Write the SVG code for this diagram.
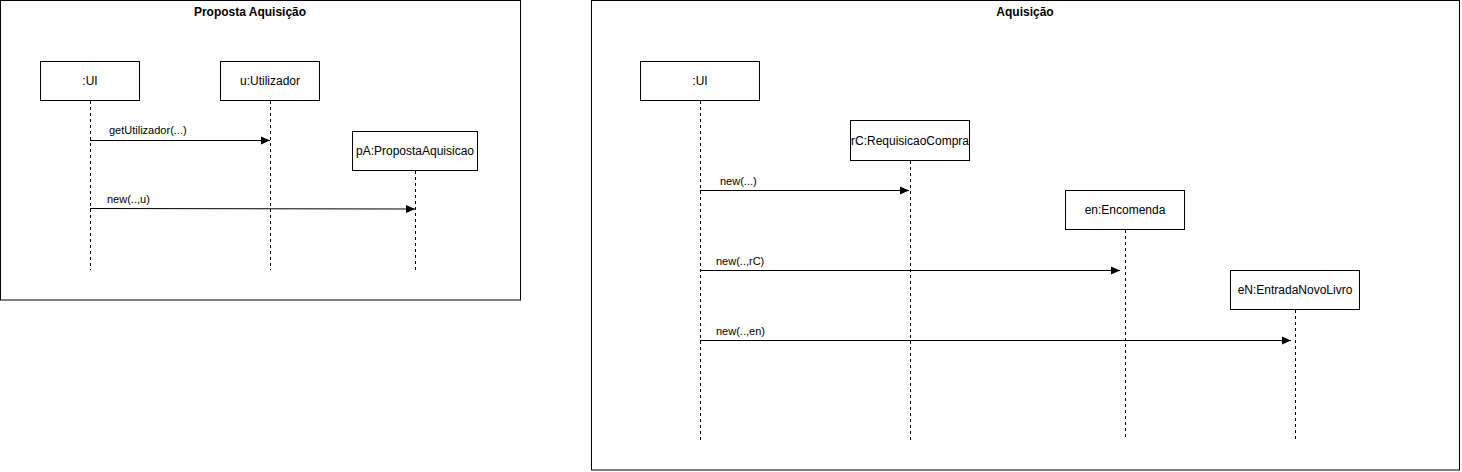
<svg xmlns="http://www.w3.org/2000/svg" width="1462" height="472" viewBox="0 0 1462 472">
<style>
.frame{fill:#fff;stroke:#000;stroke-width:1}
.box{fill:#fff;stroke:#000;stroke-width:1}
.life{stroke:#000;stroke-width:1;stroke-dasharray:3 3;fill:none}
.msg{stroke:#000;stroke-width:1;fill:none}
.title{font-family:"Liberation Sans",Arial,sans-serif;font-size:12px;font-weight:bold;fill:#000;text-anchor:middle}
.lbl{font-family:"Liberation Sans",Arial,sans-serif;font-size:12px;fill:#000;text-anchor:middle}
.mlbl{font-family:"Liberation Sans",Arial,sans-serif;font-size:11px;fill:#000}
</style>
<defs>
<marker id="arr" viewBox="0 0 10 10" refX="10" refY="5" markerWidth="9" markerHeight="9" markerUnits="userSpaceOnUse" orient="auto">
<path d="M0,0.5 L10,5 L0,9.5 Z" fill="#000"/>
</marker>
</defs>
<rect width="1462" height="472" fill="#fff"/>
<g id="frame-proposta">
<rect class="frame" x="0.5" y="0.5" width="520" height="299.5"/>
<text class="title" x="250" y="16">Proposta Aquisição</text>
</g>
<g id="frame-aquisicao">
<rect class="frame" x="591.5" y="0.5" width="868" height="469.5"/>
<text class="title" x="1025" y="16">Aquisição</text>
</g>
<g id="p-ui">
<rect class="box" x="40.5" y="61.5" width="99" height="39"/>
<text class="lbl" x="90" y="85">:UI</text>
<line class="life" x1="90.5" y1="101" x2="90.5" y2="270"/>
</g>
<g id="p-utilizador">
<rect class="box" x="220.5" y="61.5" width="99" height="39"/>
<text class="lbl" x="270" y="85">u:Utilizador</text>
<line class="life" x1="270.5" y1="101" x2="270.5" y2="270"/>
</g>
<g id="p-proposta">
<rect class="box" x="352.5" y="131.5" width="125" height="39"/>
<text class="lbl" x="415" y="155">pA:PropostaAquisicao</text>
<line class="life" x1="415.5" y1="171" x2="415.5" y2="270"/>
</g>
<g id="a-ui">
<rect class="box" x="640.5" y="61.5" width="119" height="39"/>
<text class="lbl" x="700" y="85">:UI</text>
<line class="life" x1="700.5" y1="101" x2="700.5" y2="440"/>
</g>
<g id="a-requisicao">
<rect class="box" x="850.5" y="120.5" width="119" height="40"/>
<text class="lbl" x="910" y="145">rC:RequisicaoCompra</text>
<line class="life" x1="910.5" y1="161" x2="910.5" y2="440"/>
</g>
<g id="a-encomenda">
<rect class="box" x="1065.5" y="190.5" width="119" height="39"/>
<text class="lbl" x="1125" y="214">en:Encomenda</text>
<line class="life" x1="1125.5" y1="230" x2="1125.5" y2="440"/>
</g>
<g id="a-entrada">
<rect class="box" x="1230.5" y="270.5" width="129" height="39"/>
<text class="lbl" x="1295" y="294">eN:EntradaNovoLivro</text>
<line class="life" x1="1295.5" y1="310" x2="1295.5" y2="440"/>
</g>
<g id="connectors">
<line class="msg" x1="90" y1="140.5" x2="270" y2="140.5" marker-end="url(#arr)"/>
<text class="mlbl" x="109" y="134">getUtilizador(...)</text>
<line class="msg" x1="90" y1="208.5" x2="415" y2="209" marker-end="url(#arr)"/>
<text class="mlbl" x="107" y="203">new(..,u)</text>
<line class="msg" x1="700" y1="190.5" x2="909" y2="190.5" marker-end="url(#arr)"/>
<text class="mlbl" x="720" y="185">new(...)</text>
<line class="msg" x1="700" y1="270.5" x2="1120" y2="270.5" marker-end="url(#arr)"/>
<text class="mlbl" x="716" y="265">new(..,rC)</text>
<line class="msg" x1="700" y1="340.5" x2="1291" y2="340.5" marker-end="url(#arr)"/>
<text class="mlbl" x="716" y="335">new(..,en)</text>
</g>
</svg>
